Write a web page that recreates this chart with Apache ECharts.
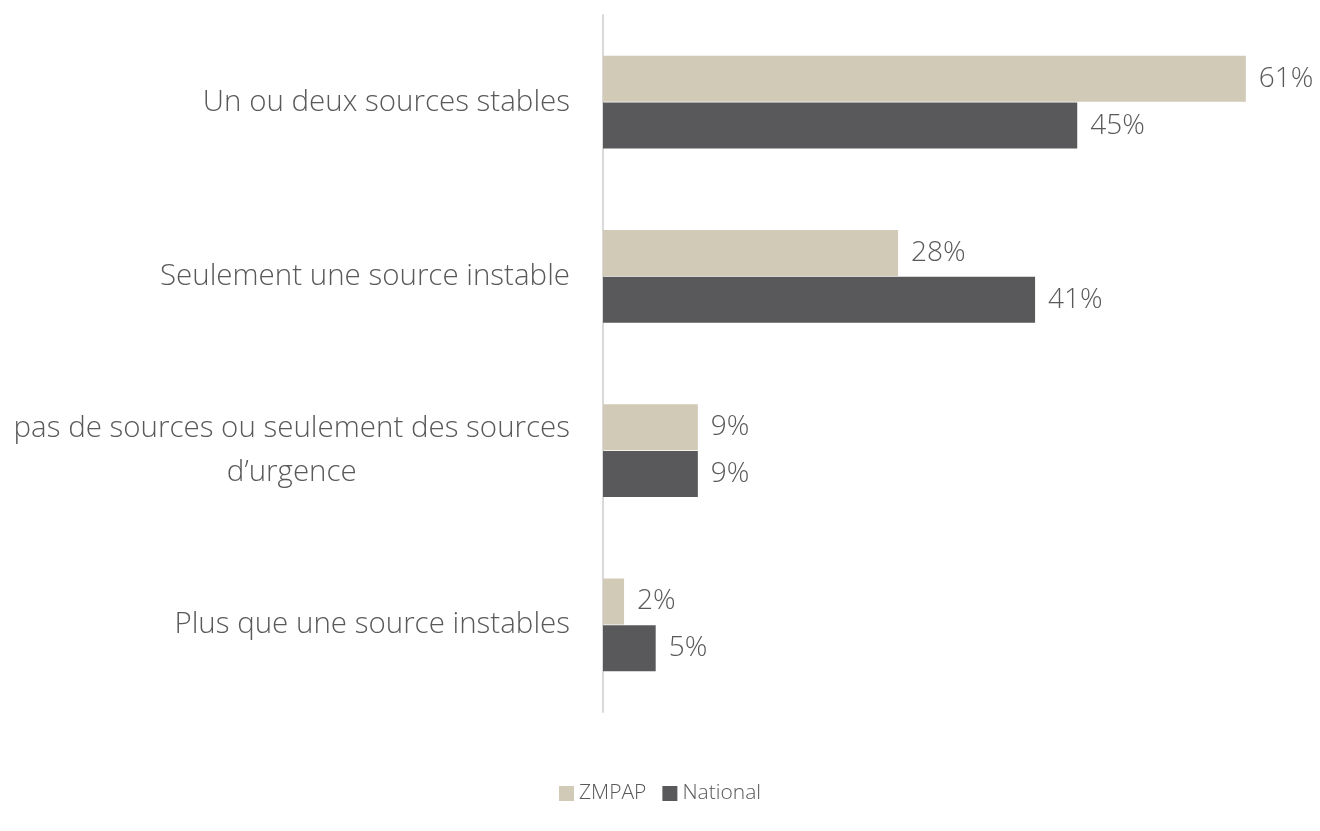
<!DOCTYPE html>
<html>
<head>
<meta charset="utf-8">
<script src="https://cdn.jsdelivr.net/npm/echarts@6/dist/echarts.min.js"></script>
<style>html,body{margin:0;padding:0;background:#fff}#c{width:1320px;height:831px}</style>
</head>
<body>
<div id="c"></div>
<script>
const categories = [
  "Un ou deux sources stables",
  "Seulement une source instable",
  "pas de sources ou seulement des sources\nd\u2019urgence",
  "Plus que une source instables"
];
const seriesNames = ["ZMPAP", "National"];
const zmpap = [61, 28, 9, 2];
const national = [45, 41, 9, 5];

const FONT = "'Open Sans', 'Noto Sans', sans-serif";
const chart = echarts.init(document.getElementById('c'));
const labelStyle = {
  show: true, position: 'right', distance: 13,
  formatter: p => p.value + '%',
  fontFamily: FONT, fontWeight: 300, fontSize: 28, color: '#595959'
};
chart.setOption({
  animation: false,
  textStyle: { fontFamily: FONT },
  grid: { left: 603, right: 32, top: 15, bottom: 119, containLabel: false },
  legend: {
    bottom: 22, left: 'center',
    itemWidth: 15, itemHeight: 15, itemGap: 16,
    icon: 'rect',
    textStyle: { fontFamily: FONT, fontWeight: 300, fontSize: 21, color: '#595959', padding: [0, 0, 0, 0] },
    data: seriesNames
  },
  xAxis: {
    type: 'value', min: 0, max: 65,
    show: false
  },
  yAxis: {
    type: 'category', inverse: true, data: categories,
    axisLine: { show: true, lineStyle: { color: '#d9d9d9', width: 2 } },
    axisTick: { show: false },
    axisLabel: {
      margin: 33, fontFamily: FONT, fontWeight: 300, fontSize: 29.5, color: '#595959',
      lineHeight: 44,
      formatter: v => v.split('\n').map(s => '{c|' + s + '}').join('\n'),
      rich: { c: { align: 'center', fontFamily: FONT, fontWeight: 300, fontSize: 29.5, color: '#595959', lineHeight: 44 } }
    }
  },
  series: [
    { name: seriesNames[0], type: 'bar', data: zmpap, barWidth: 46, barGap: '2%',
      itemStyle: { color: '#d1cab7' }, label: labelStyle },
    { name: seriesNames[1], type: 'bar', data: national, barWidth: 46, barGap: '2%',
      itemStyle: { color: '#59595b' }, label: labelStyle }
  ]
});
</script>
</body>
</html>
